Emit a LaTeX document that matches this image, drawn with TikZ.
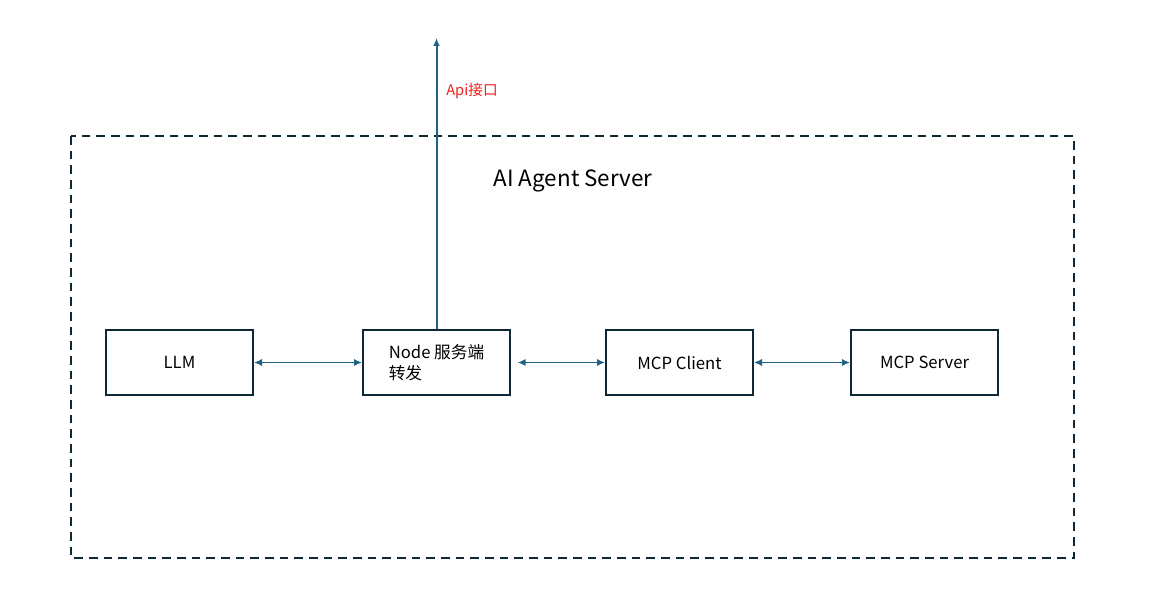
\documentclass[tikz,border=0pt]{standalone}
\usepackage{fontspec}
\setmainfont{Noto Sans CJK SC}
\usepackage{tikz}
\usetikzlibrary{arrows.meta,positioning}
\definecolor{boxnavy}{RGB}{14,40,54}
\definecolor{linkblue}{RGB}{30,98,132}
\definecolor{apired}{RGB}{240,30,30}
\tikzset{
  modulo/.style={
    draw=boxnavy,
    line width=1.5pt,
    minimum width=110.25pt,
    minimum height=48.75pt,
    align=left,
    inner sep=3pt,
    font=\fontsize{12.5}{16}\selectfont
  },
  marco/.style={
    draw=boxnavy,
    line width=1.5pt,
    dash pattern=on 6.5pt off 4.5pt
  },
  enlace/.style={
    {Latex[length=6pt,width=5.5pt]}-{Latex[length=6pt,width=5.5pt]},
    line width=1.4pt,
    linkblue
  },
  salida/.style={
    -{Latex[length=6pt,width=5pt]},
    line width=1.5pt,
    linkblue
  }
}
\begin{document}
\begin{tikzpicture}[x=0.75pt,y=-0.75pt]
\useasboundingbox (0,0) rectangle (1164,616);
\draw[marco] (71,136) rectangle (1074,558);
\node[font=\fontsize{16.8}{20}\selectfont] (titulo) at (573,181) {AI Agent Server};
\node[modulo] (llm) at (179.5,362.5) {LLM};
\node[modulo,right=81pt of llm] (nodo) {Node 服务端\\转发};
\node[modulo,right=70.5pt of nodo] (cliente) {MCP Client};
\node[modulo,right=72pt of cliente] (servidor) {MCP Server};
\coordinate (api) at (436,38);
\draw[enlace] (llm) -- (nodo);
\draw[enlace,shorten <=5pt] (nodo) -- (cliente);
\draw[enlace] (cliente) -- (servidor);
\draw[salida] (nodo.north) -- (nodo.north |- api);
\node[text=apired,font=\fontsize{11}{13}\selectfont] (apilabel) at (472,91) {Api接口};
\end{tikzpicture}
\end{document}
